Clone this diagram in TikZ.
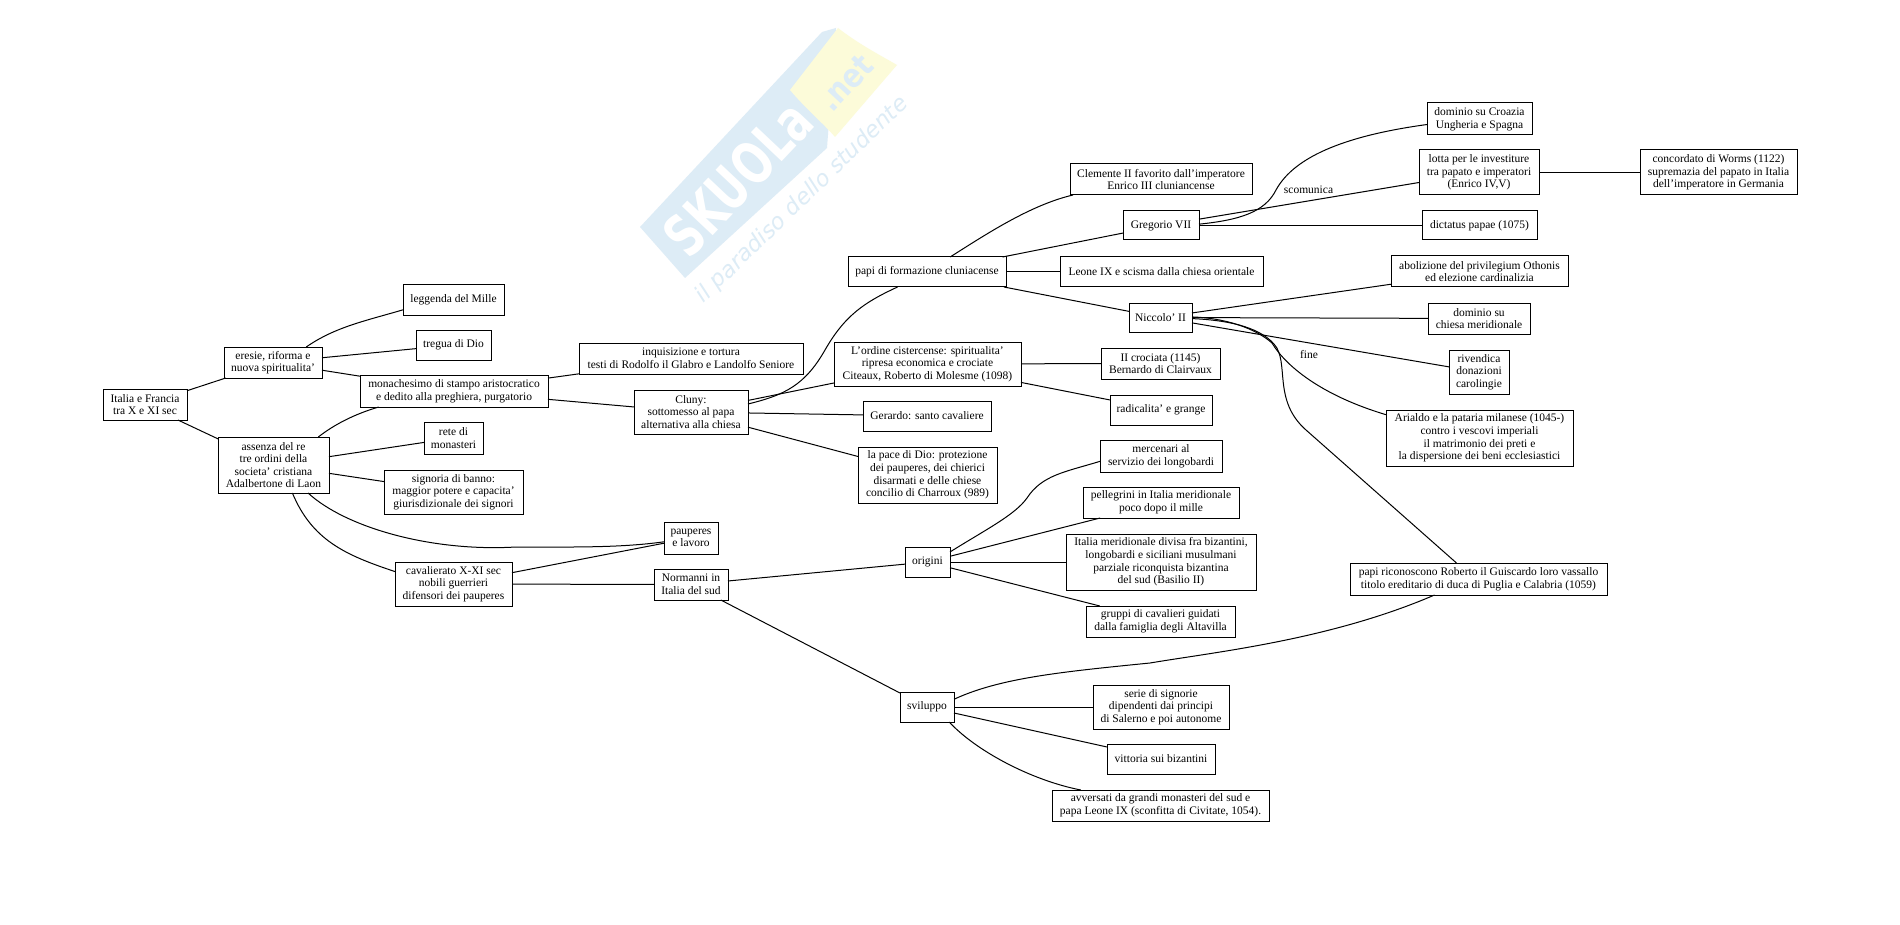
\documentclass[tikz,border=0pt]{standalone}
\usepackage{fontspec}
\usepackage{graphicx}
\setmainfont{Liberation Serif}
\newfontfamily\wmfont{DejaVu Sans}
\newcommand{\mbx}[6]{\node[boxn,minimum width={(#4-#2)*1pt},minimum height={(#5-#3)*1pt}] (#1) at ({(#2+#4)/2},{(#3+#5)/2}) {#6};}
\tikzset{
  boxn/.style={draw=black,line width=1pt,rectangle,inner sep=0pt,outer sep=0pt,align=center,font=\fontsize{11.5}{12.6}\selectfont},
  edgeline/.style={draw=black,line width=1pt},
  lab/.style={font=\fontsize{11.5}{12.6}\selectfont,inner sep=0pt}
}
\definecolor{wmblue}{HTML}{DDECF6}
\definecolor{wmyellow}{HTML}{FCFBD9}
\begin{document}
\begin{tikzpicture}[x=1pt,y=-1pt]
\useasboundingbox (0,0) rectangle (1900,925);
\fill[white] (0,0) rectangle (1900,925);
% watermark
\fill[wmblue] (640,227) -- (822,32) -- (836,28) -- (827,148) -- (685,278) -- cycle;
\fill[wmyellow] (790,90) -- (838,28) .. controls (860,45) and (880,55) .. (897,65) -- (835,137) .. controls (825,125) and (805,108) .. (790,90) -- cycle;
\node[font=\wmfont\bfseries\fontsize{58}{58}\selectfont,white,rotate=46.7,inner sep=0pt] (wmA) at (738,178) {\scalebox{0.72}[1]{SKUOLa}};
\node[font=\wmfont\bfseries\fontsize{33}{33}\selectfont,wmblue,rotate=46.7,inner sep=0pt] (wmB) at (846,83) {\scalebox{0.85}[1]{.net}};
\node[font=\wmfont\itshape\fontsize{22.5}{22.5}\selectfont,wmblue,rotate=44,inner sep=0pt] (wmC) at (802,200) {il paradiso dello studente};
% boxes
\mbx{italia}{103}{389}{187}{420}{Italia e Francia\\tra X e XI sec}
\mbx{eresie}{224}{347}{322}{378}{eresie, riforma e\\nuova spiritualita'}
\mbx{leggenda}{403}{285}{504}{315}{leggenda del Mille}
\mbx{tregua}{416}{330}{491}{360}{tregua di Dio}
\mbx{monach}{360}{375}{548}{407}{monachesimo di stampo aristocratico\\e dedito alla preghiera, purgatorio}
\mbx{inquis}{579}{343}{803}{374}{inquisizione e tortura\\testi di Rodolfo il Glabro e Landolfo Seniore}
\mbx{cluny}{634}{390}{748}{434}{Cluny:\\sottomesso al papa\\alternativa alla chiesa}
\mbx{assenza}{218}{437}{329}{493}{assenza del re\\tre ordini della\\societa' cristiana\\Adalbertone di Laon}
\mbx{rete}{424}{422}{483}{454}{rete di\\monasteri}
\mbx{signoria}{384}{470}{523}{514}{signoria di banno:\\maggior potere e capacita'\\giurisdizionale dei signori}
\mbx{pauperes}{664}{522}{718}{554}{pauperes\\e lavoro}
\mbx{cavalier}{395}{562}{512}{606}{cavalierato X-XI sec\\nobili guerrieri\\difensori dei pauperes}
\mbx{normanni}{654}{569}{728}{600}{Normanni in\\Italia del sud}
\mbx{papi}{848}{257}{1006}{287}{papi di formazione cluniacense}
\mbx{clemente}{1070}{164}{1252}{195}{Clemente II favorito dall'imperatore\\Enrico III cluniancense}
\mbx{gregorio}{1123}{211}{1199}{240}{Gregorio VII}
\mbx{leone}{1060}{257}{1263}{287}{Leone IX e scisma dalla chiesa orientale}
\mbx{niccolo}{1129}{303}{1192}{332}{Niccolo' II}
\mbx{croazia}{1427}{103}{1532}{135}{dominio su Croazia\\Ungheria e Spagna}
\mbx{lotta}{1419}{150}{1539}{195}{lotta per le investiture\\tra papato e imperatori\\(Enrico IV,V)}
\mbx{concordato}{1640}{150}{1797}{195}{concordato di Worms (1122)\\supremazia del papato in Italia\\dell'imperatore in Germania}
\mbx{dictatus}{1422}{211}{1537}{240}{dictatus papae (1075)}
\mbx{abolizione}{1391}{256}{1568}{287}{abolizione del privilegium Othonis\\ed elezione cardinalizia}
\mbx{dominio}{1428}{303}{1530}{334}{dominio su\\chiesa meridionale}
\mbx{rivendica}{1449}{350}{1509}{394}{rivendica\\donazioni\\carolingie}
\mbx{arialdo}{1386}{410}{1573}{466}{Arialdo e la pataria milanese (1045-)\\contro i vescovi imperiali\\il matrimonio dei preti e\\la dispersione dei beni ecclesiastici}
\mbx{ordine}{834}{342}{1021}{386}{L'ordine cistercense: spiritualita'\\ripresa economica e crociate\\Citeaux, Roberto di Molesme (1098)}
\mbx{crociata}{1101}{348}{1220}{379}{II crociata (1145)\\Bernardo di Clairvaux}
\mbx{radicalita}{1110}{395}{1212}{425}{radicalita' e grange}
\mbx{gerardo}{863}{401}{991}{431}{Gerardo: santo cavaliere}
\mbx{pace}{858}{447}{997}{503}{la pace di Dio: protezione\\dei pauperes, dei chierici\\disarmati e delle chiese\\concilio di Charroux (989)}
\mbx{mercenari}{1100}{440}{1222}{472}{mercenari al\\servizio dei longobardi}
\mbx{pellegrini}{1083}{487}{1239}{518}{pellegrini in Italia meridionale\\poco dopo il mille}
\mbx{italiam}{1066}{534}{1256}{590}{Italia meridionale divisa fra bizantini,\\longobardi e siciliani musulmani\\parziale riconquista bizantina\\del sud (Basilio II)}
\mbx{gruppi}{1086}{606}{1235}{637}{gruppi di cavalieri guidati\\dalla famiglia degli Altavilla}
\mbx{origini}{905}{547}{950}{577}{origini}
\mbx{robert}{1350}{563}{1607}{595}{papi riconoscono Roberto il Guiscardo loro vassallo\\titolo ereditario di duca di Puglia e Calabria (1059)}
\mbx{sviluppo}{900}{692}{954}{722}{sviluppo}
\mbx{serie}{1093}{685}{1229}{729}{serie di signorie\\dipendenti dai principi\\di Salerno e poi autonome}
\mbx{vittoria}{1107}{744}{1215}{774}{vittoria sui bizantini}
\mbx{avversati}{1052}{790}{1269}{821}{avversati da grandi monasteri del sud e\\papa Leone IX (sconfitta di Civitate, 1054).}
% edge labels
\node[lab] (scom) at (1308.5,190) {scomunica};
\node[lab] (finel) at (1309,355) {fine};
% straight edges
\foreach \a/\b in {italia/eresie,italia/assenza,eresie/tregua,eresie/monach,assenza/rete,assenza/signoria,
  cavalier/pauperes,cavalier/normanni,monach/inquis,monach/cluny,cluny/ordine,cluny/gerardo,cluny/pace,
  ordine/crociata,ordine/radicalita,papi/gregorio,papi/leone,papi/niccolo,gregorio/lotta,gregorio/dictatus,
  lotta/concordato,niccolo/abolizione,niccolo/dominio,niccolo/rivendica,normanni/origini,normanni/sviluppo,
  origini/pellegrini,origini/italiam,origini/gruppi,sviluppo/serie,sviluppo/vittoria}
  {\draw[edgeline] (\a) -- (\b);}
% curved edges
\draw[edgeline] (eresie.25.8) .. controls (335,327) and (365,321) .. (leggenda.191);
\draw[edgeline] (assenza.32.5) .. controls (335,424) and (355,414) .. (monach.192.3);
\draw[edgeline] (assenza.-39) .. controls (345,527) and (430,552) .. (516,547) .. controls (570,547) and (620,548) .. (pauperes.188.4);
\draw[edgeline] (assenza.-56.5) .. controls (312,540) and (345,555) .. (cavalier.168.4);
\draw[edgeline] (cluny.8) .. controls (785,395) and (805,385) .. (825,350) .. controls (845,315) and (865,302) .. (papi.207.3);
\draw[edgeline] (papi.33) .. controls (985,235) and (1030,205) .. (clemente.190.3);
\draw[edgeline] (gregorio.2.3) .. controls (1240,220) and (1265,212) .. (1276,190) .. controls (1295,155) and (1350,135) .. (croazia.186.5);
\draw[edgeline] (niccolo.1) .. controls (1225,318) and (1255,328) .. (1272,343) .. controls (1285,365) and (1320,395) .. (arialdo.166.2);
\draw[edgeline] (niccolo.-2) .. controls (1225,320) and (1258,326) .. (1274,344) .. controls (1290,362) and (1272,400) .. (1306,430) -- (robert.144.6);
\draw[edgeline] (origini.24) .. controls (985,530) and (1015,515) .. (1027,498) .. controls (1042,475) and (1065,472) .. (mercenari.185.6);
\draw[edgeline] (sviluppo.16.5) .. controls (1000,678) and (1060,672) .. (1150,663) .. controls (1215,652) and (1330,640) .. (robert.200.6);
\draw[edgeline] (sviluppo.-34) .. controls (975,750) and (1030,780) .. (avversati.169.8);
\end{tikzpicture}
\end{document}
